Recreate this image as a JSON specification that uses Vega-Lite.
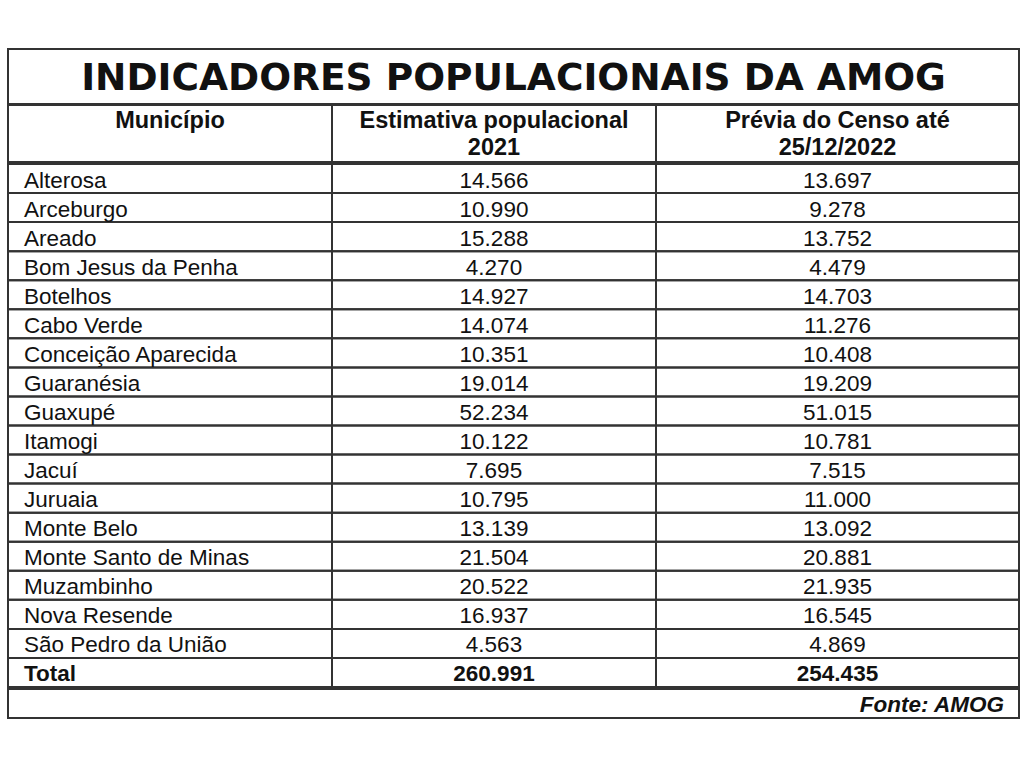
{
  "$schema": "https://vega.github.io/schema/vega-lite/v6.json",
  "background": "white",
  "padding": {"left": 6, "top": 48, "right": 0, "bottom": 0},
  "datasets": {
    "tabela": [
      {"Municipio": "Alterosa", "Estimativa2021": 14566, "Previa2022": 13697},
      {"Municipio": "Arceburgo", "Estimativa2021": 10990, "Previa2022": 9278},
      {"Municipio": "Areado", "Estimativa2021": 15288, "Previa2022": 13752},
      {"Municipio": "Bom Jesus da Penha", "Estimativa2021": 4270, "Previa2022": 4479},
      {"Municipio": "Botelhos", "Estimativa2021": 14927, "Previa2022": 14703},
      {"Municipio": "Cabo Verde", "Estimativa2021": 14074, "Previa2022": 11276},
      {"Municipio": "Conceição Aparecida", "Estimativa2021": 10351, "Previa2022": 10408},
      {"Municipio": "Guaranésia", "Estimativa2021": 19014, "Previa2022": 19209},
      {"Municipio": "Guaxupé", "Estimativa2021": 52234, "Previa2022": 51015},
      {"Municipio": "Itamogi", "Estimativa2021": 10122, "Previa2022": 10781},
      {"Municipio": "Jacuí", "Estimativa2021": 7695, "Previa2022": 7515},
      {"Municipio": "Juruaia", "Estimativa2021": 10795, "Previa2022": 11000},
      {"Municipio": "Monte Belo", "Estimativa2021": 13139, "Previa2022": 13092},
      {"Municipio": "Monte Santo de Minas", "Estimativa2021": 21504, "Previa2022": 20881},
      {"Municipio": "Muzambinho", "Estimativa2021": 20522, "Previa2022": 21935},
      {"Municipio": "Nova Resende", "Estimativa2021": 16937, "Previa2022": 16545},
      {"Municipio": "São Pedro da União", "Estimativa2021": 4563, "Previa2022": 4869},
      {"Municipio": "Total", "Estimativa2021": 260991, "Previa2022": 254435}
    ]
  },
  "spacing": -4,
  "vconcat": [
    {
      "width": 1011,
      "height": 55,
      "data": {"values": [{"titulo": "INDICADORES POPULACIONAIS DA AMOG"}]},
      "layer": [
        {"mark": {"type": "rect", "filled": false, "stroke": "#333", "strokeWidth": 2}, "encoding": {}},
        {
          "mark": {"type": "text", "font": "DejaVu Sans", "fontWeight": "bold", "fontSize": 37.5, "color": "#111", "dy": 2},
          "encoding": {"text": {"field": "titulo", "type": "nominal"}}
        }
      ]
    },
    {
      "spacing": 0,
      "bounds": "flush",
      "hconcat": [
        {
          "width": 324, "height": 57,
          "data": {"values": [{"rotulo": "Município"}]},
          "layer": [
            {"mark": {"type": "rect", "filled": false, "stroke": "#333", "strokeWidth": 2}, "encoding": {}},
            {
              "mark": {"type": "text", "font": "Liberation Sans", "fontWeight": "bold", "fontSize": 23.5, "baseline": "top", "lineBreak": "\n", "lineHeight": 27, "dy": 4, "color": "#111"},
              "encoding": {"text": {"field": "rotulo", "type": "nominal"}, "y": {"value": 0}}
            }
          ]
        },
        {
          "width": 324, "height": 57,
          "data": {"values": [{"rotulo": "Estimativa populacional\n2021"}]},
          "layer": [
            {"mark": {"type": "rect", "filled": false, "stroke": "#333", "strokeWidth": 2}, "encoding": {}},
            {
              "mark": {"type": "text", "font": "Liberation Sans", "fontWeight": "bold", "fontSize": 23.5, "baseline": "top", "lineBreak": "\n", "lineHeight": 27, "dy": 4, "color": "#111"},
              "encoding": {"text": {"field": "rotulo", "type": "nominal"}, "y": {"value": 0}}
            }
          ]
        },
        {
          "width": 363, "height": 57,
          "data": {"values": [{"rotulo": "Prévia do Censo até\n25/12/2022"}]},
          "layer": [
            {"mark": {"type": "rect", "filled": false, "stroke": "#333", "strokeWidth": 2}, "encoding": {}},
            {
              "mark": {"type": "text", "font": "Liberation Sans", "fontWeight": "bold", "fontSize": 23.5, "baseline": "top", "lineBreak": "\n", "lineHeight": 27, "dy": 4, "color": "#111"},
              "encoding": {"text": {"field": "rotulo", "type": "nominal"}, "y": {"value": 0}}
            }
          ]
        }
      ]
    },
    {
      "spacing": 0,
      "bounds": "flush",
      "hconcat": [
        {
          "width": 324, "height": 523,
          "data": {"name": "tabela"},
          "encoding": {"y": {"field": "Municipio", "type": "nominal", "sort": null, "axis": null, "scale": {"paddingInner": 0, "paddingOuter": 0}}},
          "layer": [
            {"mark": {"type": "rect", "filled": false, "stroke": "#333", "strokeWidth": 2}},
            {
              "transform": [{"filter": "datum.Municipio != 'Total'"}],
              "mark": {"type": "text", "align": "left", "font": "Liberation Sans", "fontSize": 22.5, "dx": 16, "dy": 2, "color": "#111"},
              "encoding": {"x": {"value": 0}, "text": {"field": "Municipio", "type": "nominal"}}
            },
            {
              "transform": [{"filter": "datum.Municipio == 'Total'"}],
              "mark": {"type": "text", "align": "left", "font": "Liberation Sans", "fontWeight": "bold", "fontSize": 22.5, "dx": 16, "dy": 2, "color": "#111"},
              "encoding": {"x": {"value": 0}, "text": {"field": "Municipio", "type": "nominal"}}
            }
          ]
        },
        {
          "width": 324, "height": 523,
          "data": {"name": "tabela"},
          "encoding": {"y": {"field": "Municipio", "type": "nominal", "sort": null, "axis": null, "scale": {"paddingInner": 0, "paddingOuter": 0}}},
          "layer": [
            {"mark": {"type": "rect", "filled": false, "stroke": "#333", "strokeWidth": 2}},
            {
              "transform": [{"filter": "datum.Municipio != 'Total'"}],
              "mark": {"type": "text", "font": "Liberation Sans", "fontSize": 22.5, "dy": 2, "color": "#111"},
              "encoding": {"text": {"field": "Estimativa2021", "type": "quantitative", "format": ",d"}}
            },
            {
              "transform": [{"filter": "datum.Municipio == 'Total'"}],
              "mark": {"type": "text", "font": "Liberation Sans", "fontWeight": "bold", "fontSize": 22.5, "dy": 2, "color": "#111"},
              "encoding": {"text": {"field": "Estimativa2021", "type": "quantitative", "format": ",d"}}
            }
          ]
        },
        {
          "width": 363, "height": 523,
          "data": {"name": "tabela"},
          "encoding": {"y": {"field": "Municipio", "type": "nominal", "sort": null, "axis": null, "scale": {"paddingInner": 0, "paddingOuter": 0}}},
          "layer": [
            {"mark": {"type": "rect", "filled": false, "stroke": "#333", "strokeWidth": 2}},
            {
              "transform": [{"filter": "datum.Municipio != 'Total'"}],
              "mark": {"type": "text", "font": "Liberation Sans", "fontSize": 22.5, "dy": 2, "color": "#111"},
              "encoding": {"text": {"field": "Previa2022", "type": "quantitative", "format": ",d"}}
            },
            {
              "transform": [{"filter": "datum.Municipio == 'Total'"}],
              "mark": {"type": "text", "font": "Liberation Sans", "fontWeight": "bold", "fontSize": 22.5, "dy": 2, "color": "#111"},
              "encoding": {"text": {"field": "Previa2022", "type": "quantitative", "format": ",d"}}
            }
          ]
        }
      ]
    },
    {
      "width": 1011,
      "height": 29,
      "data": {"values": [{"fonte": "Fonte: AMOG"}]},
      "layer": [
        {"mark": {"type": "rect", "filled": false, "stroke": "#333", "strokeWidth": 2}, "encoding": {}},
        {
          "mark": {"type": "text", "align": "right", "font": "Liberation Sans", "fontWeight": "bold", "fontStyle": "italic", "fontSize": 22.5, "dx": -15, "dy": 1, "color": "#111"},
          "encoding": {"x": {"value": "width"}, "text": {"field": "fonte", "type": "nominal"}}
        }
      ]
    }
  ],
  "config": {
    "view": {"stroke": "#333", "strokeWidth": 2},
    "locale": {"number": {"decimal": ",", "thousands": ".", "grouping": [3], "currency": ["R$", ""]}}
  }
}
